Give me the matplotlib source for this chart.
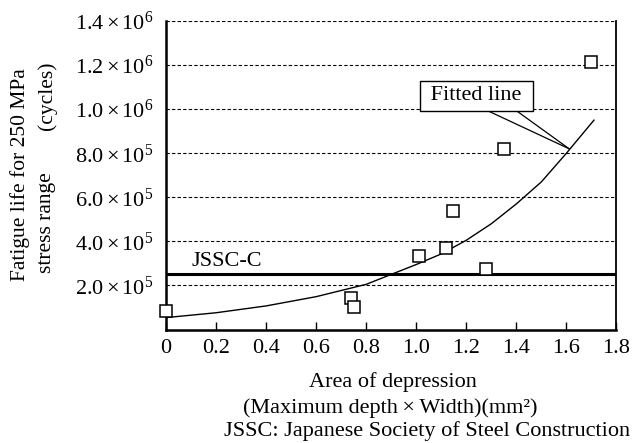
import matplotlib
matplotlib.use("Agg")
import matplotlib.pyplot as plt

plt.rcParams['font.family'] = 'Liberation Serif'
plt.rcParams['mathtext.fontset'] = 'custom'
plt.rcParams['mathtext.rm'] = 'Liberation Serif'
plt.rcParams['mathtext.it'] = 'Liberation Serif:italic'

# measured points: area of depression (mm^2) vs fatigue life (cycles)
area = [0, 0.74, 0.75, 1.01, 1.12, 1.145, 1.28, 1.35, 1.70]
life = [8.5e4, 1.43e5, 1.0e5, 3.33e5, 3.70e5, 5.38e5, 2.76e5, 8.2e5, 1.212e6]

# fitted line
fit_x = [0, 0.2, 0.4, 0.6, 0.8, 0.9, 1.0, 1.1, 1.2, 1.3, 1.4, 1.5, 1.6, 1.71]
fit_y = [5.4e4, 7.6e4, 1.07e5, 1.49e5, 2.05e5, 2.5e5, 2.95e5, 3.43e5, 4.05e5,
         4.8e5, 5.7e5, 6.7e5, 8.0e5, 9.5e5]

jssc_c = 2.5e5

xticks = [0, 0.2, 0.4, 0.6, 0.8, 1.0, 1.2, 1.4, 1.6, 1.8]
xticklabels = ['0', '0.2', '0.4', '0.6', '0.8', '1.0', '1.2', '1.4', '1.6', '1.8']
yticks = [2e5, 4e5, 6e5, 8e5, 1.0e6, 1.2e6, 1.4e6]
yticklabels = [r'$2.0\times10^{5}$', r'$4.0\times10^{5}$', r'$6.0\times10^{5}$',
               r'$8.0\times10^{5}$', r'$1.0\times10^{6}$', r'$1.2\times10^{6}$',
               r'$1.4\times10^{6}$']

fs = 16

fig = plt.figure(figsize=(6.33, 4.43), dpi=100)
ax = fig.add_axes([0.2622, 0.2562, 0.7117, 0.6964])

ax.set_xlim(0, 1.8)
ax.set_ylim(0, 1.4e6)

for y in yticks:
    ax.axhline(y, color='black', lw=0.8, ls=(0, (3, 2)), zorder=1)

ax.axhline(jssc_c, color='black', lw=2.2, zorder=2)
ax.plot(fit_x, fit_y, color='black', lw=1.0, zorder=3)
ax.plot(area, life, 's', ms=8.5, mfc='white', mec='black', mew=1.1,
        clip_on=False, zorder=4)

ax.text(0.103, 2.88e5, 'JSSC-C', fontsize=fs, ha='left', va='baseline')

# callout for the fitted line
ax.annotate(' Fitted line ', xy=(1.611, 8.2e5), xytext=(1.239, 1.06e6),
            fontsize=fs, ha='center', va='center', zorder=6,
            bbox=dict(boxstyle='square,pad=0.25', fc='white', ec='black', lw=1.0))
ax.annotate('', xy=(1.611, 8.2e5), xytext=(1.285, 0.993e6),
            arrowprops=dict(arrowstyle='-', lw=0.9, color='black',
                            shrinkA=0, shrinkB=0), zorder=5)
ax.annotate('', xy=(1.611, 8.2e5), xytext=(1.40, 0.993e6),
            arrowprops=dict(arrowstyle='-', lw=0.9, color='black',
                            shrinkA=0, shrinkB=0), zorder=5)

ax.set_xticks(xticks)
ax.set_xticklabels(xticklabels, fontsize=fs)
ax.set_yticks(yticks)
ax.set_yticklabels(yticklabels, fontsize=fs)
ax.tick_params(axis='x', direction='in', length=6, width=1, pad=7)
ax.tick_params(axis='y', length=0, pad=9)

ax.spines['top'].set_visible(False)
ax.spines['left'].set_linewidth(1.8)
ax.spines['bottom'].set_linewidth(1.8)
ax.spines['right'].set_linewidth(1.3)

# axis titles
W, H = 633, 443
fig.text(20 / W, 1 - 175 / H, 'Fatigue life for 250 MPa', rotation=90,
         fontsize=15.5, ha='center', va='center')
fig.text(47 / W, 1 - 223 / H, 'stress range', rotation=90,
         fontsize=15.5, ha='center', va='center')
fig.text(47 / W, 1 - 96 / H, '(cycles)', rotation=90,
         fontsize=15.5, ha='center', va='center')

fig.text(392.5 / W, 1 - 387 / H, 'Area of depression', fontsize=fs,
         ha='center', va='baseline')
fig.text(390 / W, 1 - 413 / H, '(Maximum depth\u2009×\u2009Width)(mm²)',
         fontsize=fs, ha='center', va='baseline')
fig.text(427 / W, 1 - 436 / H, 'JSSC: Japanese Society of Steel Construction',
         fontsize=fs, ha='center', va='baseline')

fig.savefig('out.png', dpi=100)
